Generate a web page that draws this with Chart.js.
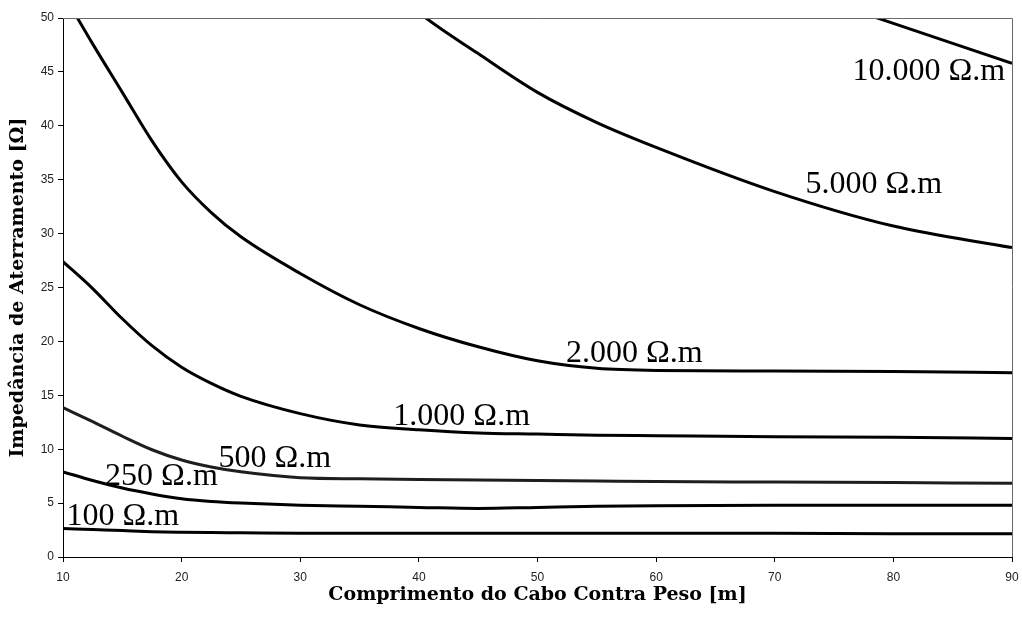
<!DOCTYPE html>
<html>
<head>
<meta charset="utf-8">
<script src="https://cdn.jsdelivr.net/npm/chart.js@4/dist/chart.umd.min.js"></script>
<style>
  html, body { margin: 0; padding: 0; background: #fff; }
  #wrap { width: 1022px; height: 618px; }
</style>
</head>
<body>
<div id="wrap"><canvas id="chart" width="1022" height="618"></canvas></div>
<script>
// Cable length [m] sampled along the x axis
const lengths = [10, 12.5, 15, 17.5, 20, 22.5, 25, 30, 35, 40, 45, 50, 55, 60, 70, 80, 90];

// Grounding impedance [Ω] for each soil resistivity (null = not computed)
const z100   = [2.65, 2.55, 2.45, 2.35, 2.3, 2.27, 2.25, 2.2, 2.2, 2.2, 2.2, 2.2, 2.2, 2.2, 2.2, 2.15, 2.15];
const z250   = [7.9, 7.1, 6.4, 5.85, 5.4, 5.15, 5.0, 4.8, 4.7, 4.6, 4.5, 4.6, 4.7, 4.75, 4.8, 4.8, 4.8];
const z500   = [13.85, 12.55, 11.2, 9.95, 9.0, 8.35, 7.9, 7.35, 7.25, 7.2, 7.15, 7.1, 7.05, 7.0, 6.95, 6.9, 6.85];
const z1000  = [27.4, 24.9, 22.1, 19.6, 17.6, 16.1, 14.9, 13.3, 12.25, 11.8, 11.5, 11.4, 11.3, 11.25, 11.15, 11.1, 11.0];
const z2000  = [52.3, 47.6, 43.1, 38.6, 34.8, 31.95, 29.7, 26.3, 23.4, 21.2, 19.5, 18.2, 17.5, 17.3, 17.25, 17.2, 17.1];
const z5000  = [null, null, null, null, null, null, null, null, 55.5, 50.5, 46.7, 43.1, 40.3, 38.0, 33.9, 30.7, 28.7];
const z10000 = [null, null, null, null, null, null, null, null, null, null, null, null, null, null, 53.2, 49.5, 45.8];

// Curve captions and their anchor (left edge, baseline) in data units
const captionText = ['100 Ω.m', '250 Ω.m', '500 Ω.m', '1.000 Ω.m', '2.000 Ω.m', '5.000 Ω.m', '10.000 Ω.m'];
const captionX    = [10.3, 13.55, 23.1, 37.85, 52.4, 72.6, 76.55];
const captionY    = [2.97, 6.68, 8.35, 12.24, 18.09, 33.77, 44.25];

// Axis ticks
const xTicks = { min: 10, max: 90, step: 10 };
const yTicks = { min: 0, max: 50, step: 5 };

const series = [z100, z250, z500, z1000, z2000, z5000, z10000];
const lineColors = ['#000', '#000', '#1e1e1e', '#000', '#000', '#000', '#000'];

function toPoints(values) {
  const pts = [];
  values.forEach((v, i) => { if (v !== null) pts.push({ x: lengths[i], y: v }); });
  return pts;
}

const datasets = series.map((vals, i) => ({
  label: captionText[i],
  data: toPoints(vals),
  borderColor: lineColors[i],
  borderWidth: 3,
  pointRadius: 0,
  fill: false,
  cubicInterpolationMode: 'monotone'
}));

// Frame on the top and right sides of the plot area, plus curve captions
const framePlugin = {
  id: 'frameAndCaptions',
  afterDatasetsDraw(chart) {
    const { ctx, chartArea: a, scales } = chart;
    ctx.save();
    ctx.strokeStyle = '#6a6a6a';
    ctx.lineWidth = 1;
    ctx.beginPath();
    ctx.moveTo(a.left, a.top + 0.5);
    ctx.lineTo(a.right + 0.5, a.top + 0.5);
    ctx.lineTo(a.right + 0.5, a.bottom);
    ctx.stroke();

    ctx.fillStyle = '#000';
    ctx.font = '32px "Liberation Serif", "Times New Roman", serif';
    ctx.textAlign = 'left';
    ctx.textBaseline = 'alphabetic';
    captionText.forEach((t, i) => {
      const px = scales.x.getPixelForValue(captionX[i]);
      const py = scales.y.getPixelForValue(captionY[i]);
      ctx.fillText(t, px, py);
    });
    ctx.restore();
  }
};

const tickFont = { family: '"Liberation Sans", Arial, sans-serif', size: 12 };
const titleFont = { family: '"DejaVu Serif", serif', size: 19, weight: 'bold' };

new Chart(document.getElementById('chart'), {
  type: 'line',
  data: { datasets },
  options: {
    responsive: false,
    animation: false,
    layout: { padding: { top: 18, right: 10, bottom: 0, left: 0 } },
    plugins: { legend: { display: false }, tooltip: { enabled: false } },
    scales: {
      x: {
        type: 'linear',
        min: xTicks.min, max: xTicks.max,
        ticks: { stepSize: xTicks.step, color: '#222', font: tickFont, padding: 8, maxRotation: 0 },
        grid: { drawOnChartArea: false, drawTicks: true, tickLength: 5, color: '#000' },
        border: { display: true, color: '#000', width: 1 },
        title: { display: true, text: 'Comprimento do Cabo Contra Peso [m]', color: '#000', font: titleFont, padding: { top: 0, bottom: 12 } },
        afterFit(scale) { scale.height = 61; scale.paddingLeft = 0; scale.paddingRight = 0; }
      },
      y: {
        type: 'linear',
        min: yTicks.min, max: yTicks.max,
        ticks: { stepSize: yTicks.step, color: '#222', font: tickFont, padding: 4 },
        grid: { drawOnChartArea: false, drawTicks: true, tickLength: 5, color: '#000' },
        border: { display: true, color: '#000', width: 1 },
        title: { display: true, text: 'Impedância de Aterramento [Ω]', color: '#000', font: titleFont, padding: { top: 7, bottom: 0 } },
        afterFit(scale) { scale.width = 63; scale.paddingTop = 0; scale.paddingBottom = 0; }
      }
    }
  },
  plugins: [framePlugin]
});
</script>
</body>
</html>
